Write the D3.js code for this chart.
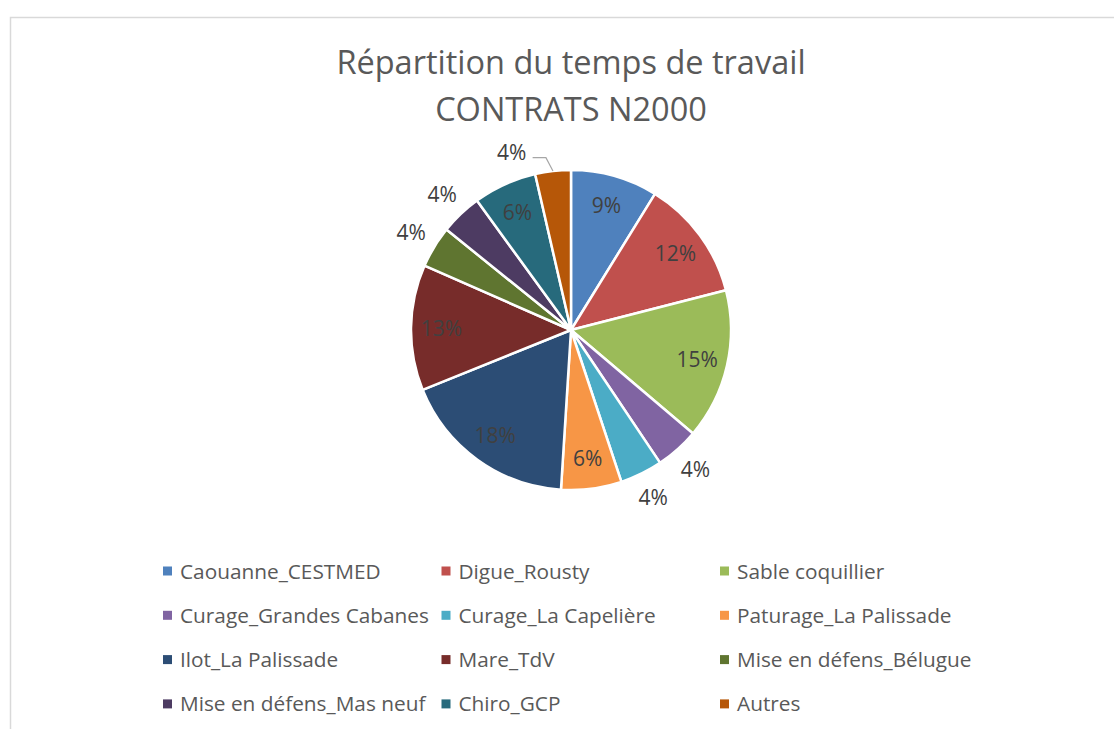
<html>
<head>
<script src="https://d3js.org/d3.v7.min.js"></script>
<title>Répartition du temps de travail</title>
<style>
body { margin: 0; padding: 0; background: #fff; }
text { font-family: "Open Sans", sans-serif; }
</style>
</head>
<body>
<svg id="chart" width="1114" height="729"></svg>
<script>

// data (share of working time, %)
var categories = ["Caouanne_CESTMED", "Digue_Rousty", "Sable coquillier",
  "Curage_Grandes Cabanes", "Curage_La Capelière", "Paturage_La Palissade",
  "Ilot_La Palissade", "Mare_TdV", "Mise en défens_Bélugue",
  "Mise en défens_Mas neuf", "Chiro_GCP", "Autres"];
var values = [8.8, 12.2, 15.2, 4.4, 4.3, 6.1, 17.9, 12.7, 4.2, 4.2, 6.4, 3.6];
var colors = ["#4F81BD", "#C0504D", "#9BBB59", "#8064A2", "#4BACC6", "#F79646",
  "#2C4D75", "#772C2A", "#5F7530", "#4D3B62", "#276A7C", "#B65708"];
var titleLines = ["Répartition du temps de travail", "CONTRATS N2000"];

var svg = d3.select("#chart");
var cx = 571, cy = 330, radius = 160;

// chart area border
svg.append("rect")
  .attr("x", 10.5).attr("y", 17.5)
  .attr("width", 1200).attr("height", 800)
  .attr("fill", "none")
  .attr("stroke", "#d9d9d9")
  .attr("stroke-width", 1.5);

svg.selectAll(".title")
  .data(titleLines)
  .enter().append("text")
  .attr("class", "title")
  .attr("x", cx)
  .attr("y", function(d, i) { return 74 + i * 47; })
  .attr("text-anchor", "middle")
  .attr("fill", "#595959")
  .style("font-size", "32.5px")
  .text(function(d) { return d; });

var total = d3.sum(values);
var pie = d3.pie().sort(null).value(function(d) { return d; });
var arcs = pie(values);

var arc = d3.arc().innerRadius(0).outerRadius(radius);
var labelArc = d3.arc().innerRadius(radius * 0.81).outerRadius(radius * 0.81);

var g = svg.append("g").attr("transform", "translate(" + cx + "," + cy + ")");

g.selectAll(".slice")
  .data(arcs)
  .enter().append("path")
  .attr("class", "slice")
  .attr("d", arc)
  .attr("fill", function(d, i) { return colors[i]; })
  .attr("stroke", "#fff")
  .attr("stroke-width", 2.5)
  .attr("stroke-linejoin", "round");

function pct(d) { return Math.round(d.value / total * 100) + "%"; }

arcs.forEach(function(d, i) {
  var mid = (d.startAngle + d.endAngle) / 2;
  var small = d.value / total * 100 < 5;
  if (!small) {
    var c = labelArc.centroid(d);
    g.append("text")
      .attr("x", c[0]).attr("y", c[1])
      .attr("dy", "0.36em")
      .attr("text-anchor", "middle")
      .attr("fill", "#404040")
      .style("font-size", "21px")
      .text(pct(d));
    return;
  }
  // small slices: label outside, pushed off the top so it needs a leader
  var a = mid;
  var leader = false;
  if (a > 2 * Math.PI - 0.21) { a = mid - 0.21; leader = true; }
  var r = radius + 27;
  var x = Math.sin(a) * r, y = -Math.cos(a) * r;
  g.append("text")
    .attr("x", x).attr("y", y)
    .attr("dy", "0.36em")
    .attr("text-anchor", "middle")
    .attr("fill", "#404040")
    .style("font-size", "21px")
    .text(pct(d));
  if (leader) {
    var ex = Math.sin(mid) * radius, ey = -Math.cos(mid) * radius;
    g.append("polyline")
      .attr("points", [[x + 21, y + 5], [ex - 7, y + 5], [ex, ey]].join(" "))
      .attr("fill", "none")
      .attr("stroke", "#a6a6a6")
      .attr("stroke-width", 1.2);
  }
});

// legend, 3 columns
var legend = svg.selectAll(".legend")
  .data(categories)
  .enter().append("g")
  .attr("class", "legend")
  .attr("transform", function(d, i) {
    return "translate(" + (163 + (i % 3) * 278.5) + "," + (571 + Math.floor(i / 3) * 44.3) + ")";
  });

legend.append("rect")
  .attr("x", 0).attr("y", -4.5)
  .attr("width", 9).attr("height", 9)
  .attr("fill", function(d, i) { return colors[i]; });

legend.append("text")
  .attr("x", 17)
  .attr("dy", "0.36em")
  .attr("fill", "#595959")
  .style("font-size", "20.8px")
  .text(function(d) { return d; });

</script>
</body>
</html>
